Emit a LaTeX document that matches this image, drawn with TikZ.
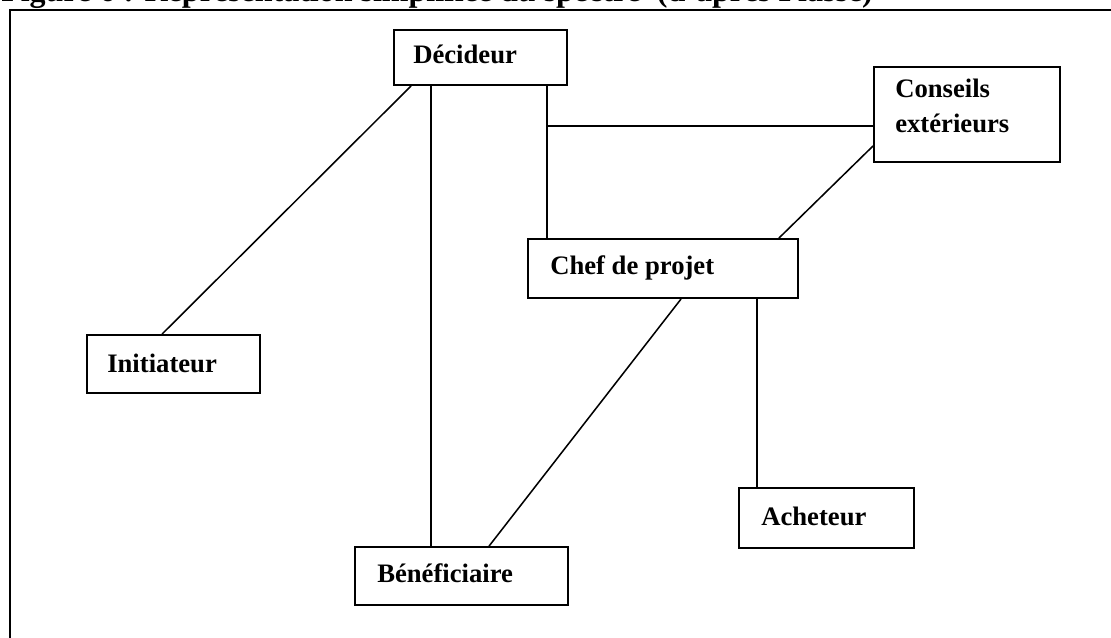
\documentclass[tikz,border=0pt]{standalone}
\usepackage{fontspec}
\setmainfont{Liberation Serif}
\usetikzlibrary{calc}
\begin{document}
\begin{tikzpicture}[x=0.75pt,y=-0.75pt,
  box/.style={draw=black,line width=1.4pt,fill=white,inner sep=0pt},
  lbl/.style={anchor=base west,inner sep=0pt,font=\bfseries\fontsize{20}{23}\selectfont},
  link/.style={draw=black,line width=1.15pt}]
\useasboundingbox (0,0) rectangle (1111,637);
\clip (0,0) rectangle (1111,637);
\fill[white] (0,0) rectangle (1111,637);

% caption, mostly cut off by the top edge
\node[anchor=base west,inner sep=0pt,font=\bfseries\fontsize{24}{28}\selectfont] (title) at (1,1.5)
  {Figure 6 : Représentation simplifiée du spectre \ (d’après Plasse)};

% outer frame
\draw[line width=1.6pt] (10,1200) -- (10,10) -- (1200,10);

% actor boxes
\node[box,minimum width={173*0.75pt},minimum height={55*0.75pt}] (dec) at (480.5,57.5) {};
\node[box,minimum width={186*0.75pt},minimum height={95*0.75pt}] (con) at (967,114.5) {};
\node[box,minimum width={270*0.75pt},minimum height={59*0.75pt}] (chef) at (663,268.5) {};
\node[box,minimum width={173*0.75pt},minimum height={58*0.75pt}] (ini) at (173.5,364) {};
\node[box,minimum width={213*0.75pt},minimum height={58*0.75pt}] (ben) at (461.5,576) {};
\node[box,minimum width={175*0.75pt},minimum height={60*0.75pt}] (ach) at (826.5,518) {};

% box labels
\node[lbl] (decT) at (413,63) {Décideur};
\node[lbl] (conT) at (895,97) {Conseils};
\node[lbl] (conU) at (895,132) {extérieurs};
\node[lbl] (chefT) at (550,274) {Chef de projet};
\node[lbl] (iniT) at (107,372) {Initiateur};
\node[lbl] (benT) at (377,582) {Bénéficiaire};
\node[lbl] (achT) at (761,525) {Acheteur};

% connectors
\coordinate (d1) at ($(dec.south west)+(18,0)$);
\coordinate (d2) at ($(dec.south west)+(38,0)$);
\coordinate (d3) at ($(dec.south west)+(154,0)$);
\coordinate (dj) at ($(d3)+(0,40)$);
\coordinate (c1) at ($(con.south west)+(0,-17)$);
\coordinate (h1) at ($(chef.south west)+(154,0)$);
\coordinate (h2) at ($(chef.south west)+(230,0)$);

\draw[link] (d1) -- ($(ini.north west)+(76,0)$);
\draw[link] (d2) -- (d2 |- ben.north);
\draw[link] (d3) -- (d3 |- chef.north);
\draw[link] (dj) -- (dj -| con.west);
\draw[link] (c1) -- ($(chef.north east)+(-20,0)$);
\draw[link] (h1) -- ($(ben.north west)+(135,0)$);
\draw[link] (h2) -- (h2 |- ach.north);
\end{tikzpicture}
\end{document}
